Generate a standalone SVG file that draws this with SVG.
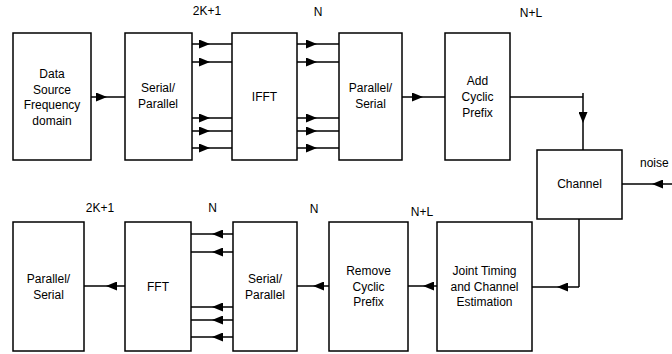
<svg xmlns="http://www.w3.org/2000/svg" width="672" height="354" viewBox="0 0 672 354">
<style>
.box{fill:#fff;stroke:#000;stroke-width:1.5}
.ln{fill:none;stroke:#000;stroke-width:1.5}
.ar{fill:none;stroke:#000;stroke-width:1.5;marker-mid:url(#ah)}
text{font-family:"Liberation Sans",Arial,sans-serif;font-size:12px;fill:#000}
.c{text-anchor:middle}
</style>
<defs>
<marker id="ah" viewBox="0 0 11 9" refX="11" refY="4.5" markerWidth="11" markerHeight="9" markerUnits="userSpaceOnUse" orient="auto">
<path d="M0,0 L11,4.5 L0,9 z" fill="#000"/>
</marker>
</defs>
<g id="connectors">
<path class="ar" d="M91 97 L107 97 L125 97"/>
<path class="ar" d="M192 44 L210 44 L232 44"/>
<path class="ar" d="M192 62 L210 62 L232 62"/>
<path class="ar" d="M192 118 L210 118 L232 118"/>
<path class="ar" d="M192 131 L210 131 L232 131"/>
<path class="ar" d="M192 148 L210 148 L232 148"/>
<path class="ar" d="M297 44 L317 44 L339 44"/>
<path class="ar" d="M297 62 L317 62 L339 62"/>
<path class="ar" d="M297 118 L317 118 L339 118"/>
<path class="ar" d="M297 131 L317 131 L339 131"/>
<path class="ar" d="M297 148 L317 148 L339 148"/>
<path class="ar" d="M402 97 L423 97 L445 97"/>
<path class="ln" d="M510 97 L583 97"/>
<path class="ar" d="M583 93 L583 123 L583 154"/>
<path class="ar" d="M672 184 L652 184 L622 184"/>
<path class="ln" d="M579 219 L579 287"/>
<path class="ar" d="M579 287 L557 287 L532 287"/>
<path class="ar" d="M437 286 L423 286 L408 286"/>
<path class="ar" d="M329 286 L313 286 L297 286"/>
<path class="ar" d="M233 234 L212 234 L191 234"/>
<path class="ar" d="M233 252 L212 252 L191 252"/>
<path class="ar" d="M233 307 L212 307 L191 307"/>
<path class="ar" d="M233 320 L212 320 L191 320"/>
<path class="ar" d="M233 337 L212 337 L191 337"/>
<path class="ar" d="M125 286 L106 286 L84 286"/>
</g>
<g id="data-source"><rect class="box" x="13" y="33" width="78" height="127"/>
<text class="c" x="52" y="78">Data</text><text class="c" x="52" y="93.5">Source</text><text class="c" x="52" y="109">Frequency</text><text class="c" x="52" y="124.5">domain</text></g>
<g id="serial-parallel-tx"><rect class="box" x="125" y="33" width="67" height="127"/>
<text class="c" x="158" y="92">Serial/</text><text class="c" x="158" y="108">Parallel</text></g>
<g id="ifft"><rect class="box" x="232" y="33" width="65" height="127"/>
<text class="c" x="264.5" y="101">IFFT</text></g>
<g id="parallel-serial-tx"><rect class="box" x="339" y="33" width="63" height="127"/>
<text class="c" x="370.5" y="92">Parallel/</text><text class="c" x="370.5" y="108">Serial</text></g>
<g id="add-cp"><rect class="box" x="445" y="33" width="65" height="127"/>
<text class="c" x="477.5" y="85">Add</text><text class="c" x="477.5" y="101">Cyclic</text><text class="c" x="477.5" y="117">Prefix</text></g>
<g id="channel"><rect class="box" x="537" y="150" width="85" height="69"/>
<text class="c" x="579.5" y="188">Channel</text></g>
<g id="joint"><rect class="box" x="437" y="222" width="95" height="129"/>
<text class="c" x="484.5" y="275">Joint Timing</text><text class="c" x="484.5" y="291">and Channel</text><text class="c" x="484.5" y="306">Estimation</text></g>
<g id="remove-cp"><rect class="box" x="329" y="222" width="79" height="129"/>
<text class="c" x="368.5" y="275">Remove</text><text class="c" x="368.5" y="291">Cyclic</text><text class="c" x="368.5" y="306">Prefix</text></g>
<g id="serial-parallel-rx"><rect class="box" x="233" y="222" width="64" height="129"/>
<text class="c" x="265" y="283">Serial/</text><text class="c" x="265" y="299">Parallel</text></g>
<g id="fft"><rect class="box" x="125" y="222" width="66" height="129"/>
<text class="c" x="158" y="291">FFT</text></g>
<g id="parallel-serial-rx"><rect class="box" x="13" y="222" width="71" height="129"/>
<text class="c" x="48.5" y="283">Parallel/</text><text class="c" x="48.5" y="299">Serial</text></g>
<g id="labels">
<text class="c" x="207" y="15">2K+1</text>
<text class="c" x="318" y="16">N</text>
<text class="c" x="531" y="17">N+L</text>
<text x="640" y="167">noise</text>
<text class="c" x="100" y="212">2K+1</text>
<text class="c" x="212.5" y="212">N</text>
<text class="c" x="314" y="213">N</text>
<text class="c" x="422" y="216">N+L</text>
</g>
</svg>
